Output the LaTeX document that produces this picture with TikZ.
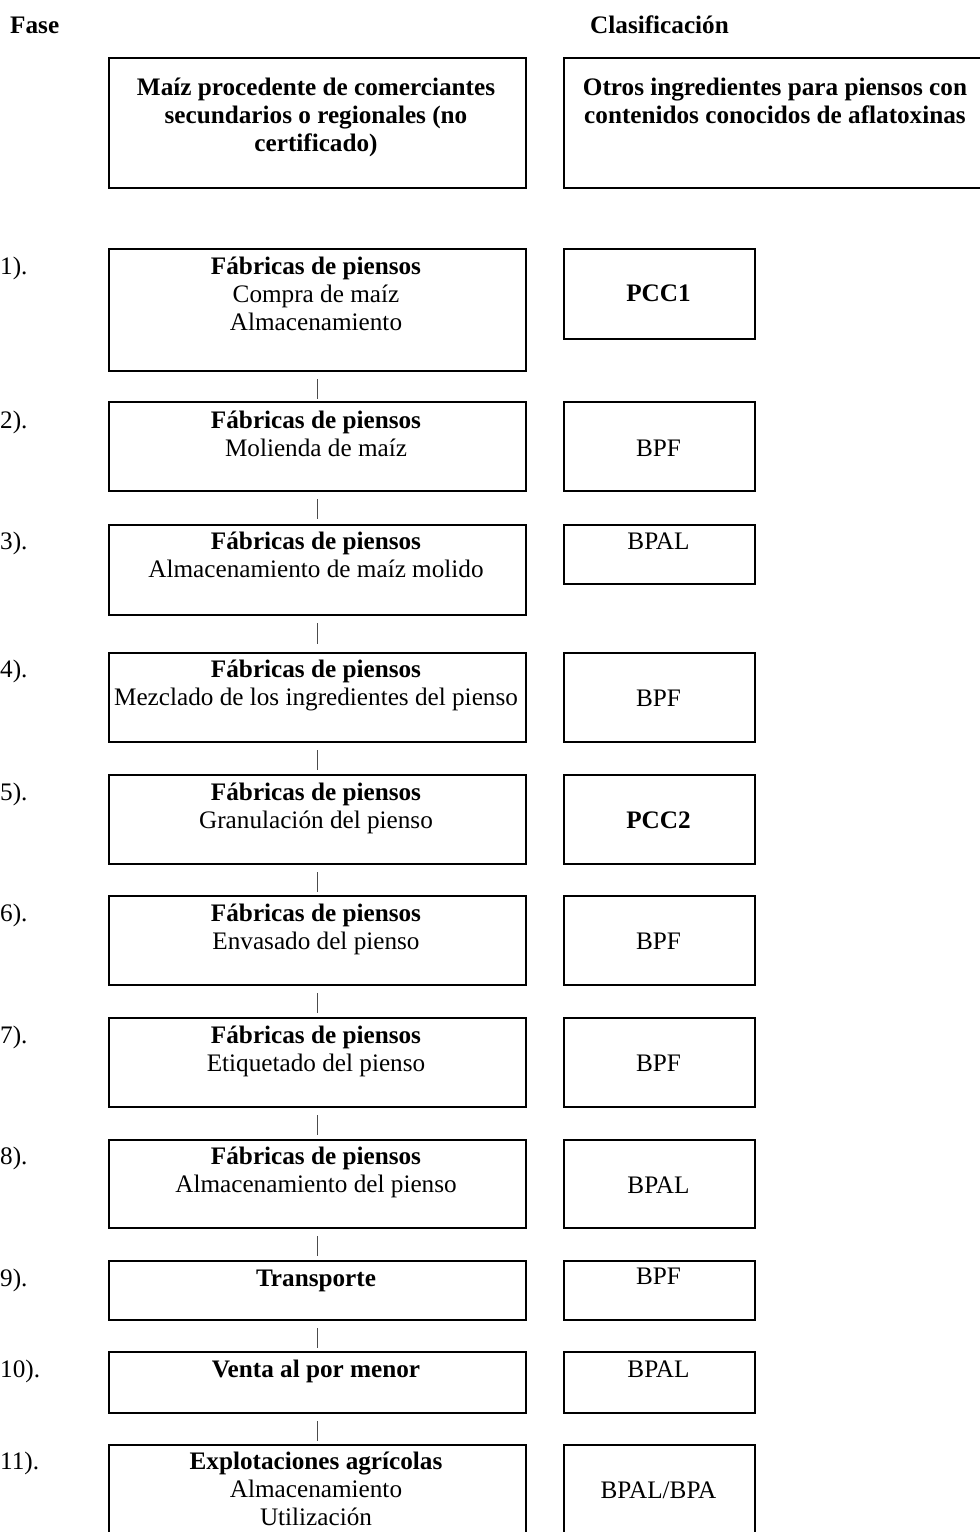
\documentclass[tikz,border=0pt]{standalone}
\usepackage{fontspec}
\setmainfont{Liberation Serif}
\begin{document}
\begin{tikzpicture}[x=1pt,y=-1pt,
  box/.style={draw, line width=2pt, inner sep=0pt, anchor=north west},
  leftbox/.style={box, minimum width=417pt},
  rightbox/.style={box, minimum width=191pt},
  conn/.style={line width=0.9pt, black!70, shorten <=7pt},
  txt/.style={align=center, inner sep=0pt, anchor=base, font=\fontsize{25.2}{28}\selectfont},
  lbl/.style={inner sep=0pt, anchor=base west, font=\fontsize{25.2}{28}\selectfont}]
\useasboundingbox (0,0) rectangle (980,1532);
\clip (0,0) rectangle (980,1532);

% column headings
\node[lbl] (hfase) at (10,33) {\textbf{Fase}};
\node[lbl] (hclas) at (590,33) {\textbf{Clasificación}};

% sources (text nodes are placed by the baseline of their last line)
\node[leftbox, minimum height=130pt] (src) at (108,57) {};
\node[txt] (srct) at (316,151) {\textbf{Maíz procedente de comerciantes}\\\textbf{secundarios o regionales (no}\\\textbf{certificado)}};
\node[box, minimum width=430pt, minimum height=130pt] (oth) at (563,57) {};
\node[txt] (otht) at (775,123) {\textbf{Otros ingredientes para piensos con}\\\textbf{contenidos conocidos de aflatoxinas}};

% steps: left boxes
\node[leftbox, minimum height=122pt] (f1) at (108,248) {};
\node[leftbox, minimum height=89pt] (f2) at (108,401) {};
\node[leftbox, minimum height=90pt] (f3) at (108,524) {};
\node[leftbox, minimum height=89pt] (f4) at (108,652) {};
\node[leftbox, minimum height=89pt] (f5) at (108,774) {};
\node[leftbox, minimum height=89pt] (f6) at (108,895) {};
\node[leftbox, minimum height=89pt] (f7) at (108,1017) {};
\node[leftbox, minimum height=88pt] (f8) at (108,1139) {};
\node[leftbox, minimum height=59pt] (f9) at (108,1260) {};
\node[leftbox, minimum height=61pt] (f10) at (108,1351) {};
\node[leftbox, minimum height=110pt] (f11) at (108,1444) {};

% steps: texts
\node[txt] (t1) at (316,330) {\textbf{Fábricas de piensos}\\Compra de maíz\\Almacenamiento};
\node[txt] (t2) at (316,456) {\textbf{Fábricas de piensos}\\Molienda de maíz};
\node[txt] (t3) at (316,577) {\textbf{Fábricas de piensos}\\Almacenamiento de maíz molido};
\node[txt] (t4) at (316,705) {\textbf{Fábricas de piensos}\\Mezclado de los ingredientes del pienso};
\node[txt] (t5) at (316,828) {\textbf{Fábricas de piensos}\\Granulación del pienso};
\node[txt] (t6) at (316,949) {\textbf{Fábricas de piensos}\\Envasado del pienso};
\node[txt] (t7) at (316,1071) {\textbf{Fábricas de piensos}\\Etiquetado del pienso};
\node[txt] (t8) at (316,1192) {\textbf{Fábricas de piensos}\\Almacenamiento del pienso};
\node[txt] (t9) at (316,1286) {\textbf{Transporte}};
\node[txt] (t10) at (316,1377) {\textbf{Venta al por menor}};
\node[txt] (t11) at (316,1525) {\textbf{Explotaciones agrícolas}\\Almacenamiento\\Utilización};

% step numbers
\node[lbl] (n1) at (0,274) {1).};
\node[lbl] (n2) at (0,428) {2).};
\node[lbl] (n3) at (0,549) {3).};
\node[lbl] (n4) at (0,677) {4).};
\node[lbl] (n5) at (0,800) {5).};
\node[lbl] (n6) at (0,921) {6).};
\node[lbl] (n7) at (0,1043) {7).};
\node[lbl] (n8) at (0,1164) {8).};
\node[lbl] (n9) at (0,1286) {9).};
\node[lbl] (n10) at (0,1377) {10).};
\node[lbl] (n11) at (0,1469) {11).};

% classification boxes
\node[rightbox, minimum height=90pt] (c1) at (563,248) {};
\node[rightbox, minimum height=89pt] (c2) at (563,401) {};
\node[rightbox, minimum height=59pt] (c3) at (563,524) {};
\node[rightbox, minimum height=89pt] (c4) at (563,652) {};
\node[rightbox, minimum height=89pt] (c5) at (563,774) {};
\node[rightbox, minimum height=89pt] (c6) at (563,895) {};
\node[rightbox, minimum height=89pt] (c7) at (563,1017) {};
\node[rightbox, minimum height=88pt] (c8) at (563,1139) {};
\node[rightbox, minimum height=59pt] (c9) at (563,1260) {};
\node[rightbox, minimum height=61pt] (c10) at (563,1351) {};
\node[rightbox, minimum height=110pt] (c11) at (563,1444) {};

% classification texts
\node[txt] (k1) at (658.5,301) {\textbf{PCC1}};
\node[txt] (k2) at (658.5,456) {BPF};
\node[txt] (k3) at (658.5,549) {BPAL};
\node[txt] (k4) at (658.5,706) {BPF};
\node[txt] (k5) at (658.5,828) {\textbf{PCC2}};
\node[txt] (k6) at (658.5,949) {BPF};
\node[txt] (k7) at (658.5,1071) {BPF};
\node[txt] (k8) at (658.5,1193) {BPAL};
\node[txt] (k9) at (658.5,1284) {BPF};
\node[txt] (k10) at (658.5,1377) {BPAL};
\node[txt] (k11) at (658.5,1498) {BPAL/BPA};

% flow connectors: short plain rules in the gap between consecutive steps
\foreach \a/\b/\s in {f1/f2/2,f2/f3/5,f3/f4/8,f4/f5/4,f5/f6/3,f6/f7/4,f7/f8/4,f8/f9/4,f9/f10/3,f10/f11/3}
  \draw[conn, shorten >=\s pt] (\a.south) -- (\b.north);
\end{tikzpicture}
\end{document}
